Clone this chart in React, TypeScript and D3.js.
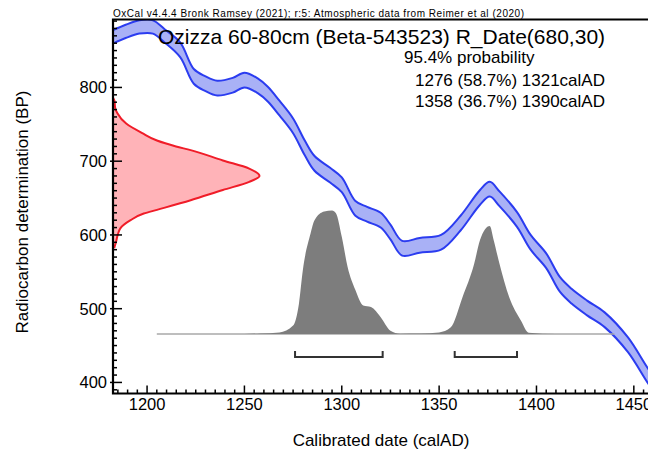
import React, { useRef, useEffect } from "react";
import * as d3 from "d3";

const header =
  "OxCal v4.4.4 Bronk Ramsey (2021); r:5: Atmospheric data from Reimer et al (2020)";
const title = "Ozizza 60-80cm (Beta-543523) R_Date(680,30)";
const probLabel = "95.4% probability";
const rangeLabels = ["1276 (58.7%) 1321calAD", "1358 (36.7%) 1390calAD"];

// calibration curve (cal AD vs BP, 1 sigma band)
const calYears = [
  1182, 1189, 1196, 1203, 1209, 1217, 1224, 1230, 1236, 1244, 1250, 1257,
  1262, 1268, 1275, 1281, 1286, 1294, 1300, 1307, 1313, 1320, 1325, 1331,
  1340, 1351, 1361, 1371, 1376, 1381, 1390, 1397, 1405, 1412, 1418, 1426,
  1435, 1447, 1457, 1462,
];
const calBP = [
  868, 876, 882, 882, 870, 851, 815, 805, 799, 803, 810, 802, 791, 772, 748,
  718, 697, 681, 668, 636, 628, 620, 604, 582, 586, 590, 616, 651, 662, 649,
  621, 590, 565, 533, 517, 501, 485, 451, 410, 392,
];
const calSigma = [
  9, 9, 9, 9, 9, 10, 10, 10, 10, 10, 10, 10, 10, 10, 10, 10, 10, 10, 10, 10,
  10, 10, 10, 10, 10, 10, 10, 10, 10, 10, 10, 10, 10, 10, 10, 10, 10, 10, 10,
  10,
];

// measured date 680±30 BP, relative likelihood
const dateBP = [
  786, 782, 772, 765, 751, 738, 728, 720, 715, 701, 690, 680, 672, 661, 647,
  634, 629, 620, 609, 602, 590, 582,
];
const dateProb = [
  0, 0.01, 0.015, 0.03, 0.09, 0.2, 0.3, 0.43, 0.53, 0.75, 0.93, 1, 0.93, 0.75,
  0.53, 0.3, 0.21, 0.12, 0.05, 0.035, 0.02, 0.008,
];

// calibrated date, relative probability
const postYears = [
  1205, 1250, 1258, 1268, 1275, 1278, 1280, 1284, 1286, 1291, 1295, 1297,
  1300, 1303, 1307, 1311, 1315, 1320, 1325, 1330, 1340, 1350, 1356, 1362,
  1368, 1371, 1376, 1378, 1381, 1386, 1392, 1396, 1410, 1440,
];
const postProb = [
  0, 0, 0.005, 0.013, 0.068, 0.245, 0.517, 0.816, 0.922, 0.992, 1, 0.978,
  0.788, 0.543, 0.356, 0.231, 0.218, 0.136, 0.027, 0.003, 0.004, 0.013,
  0.054, 0.297, 0.568, 0.762, 0.875, 0.762, 0.568, 0.297, 0.109, 0.01, 0, 0,
];

// 95.4% ranges
const rangeFrom = [1276, 1358];
const rangeTo = [1321, 1390];

const xTicks = [1200, 1250, 1300, 1350, 1400, 1450];
const yTicks = [400, 500, 600, 700, 800];

const W = 648;
const H = 451;
const FONT = "'Liberation Sans', Arial, sans-serif";

const App = () => {
  const ref = useRef(null);

  useEffect(() => {
    const svg = d3.select(ref.current);
    svg.selectAll("*").remove();

    const left = 113;
    const top = 19.5;
    const bottom = 393.5;

    const x = d3.scaleLinear().domain([1182.5, 1460]).range([left, 653.3]);
    const y = d3.scaleLinear().domain([385, 892]).range([bottom, 19.6]);
    const dateX = d3.scaleLinear().domain([0, 1]).range([left, 259.5]);
    const postY = d3.scaleLinear().domain([0, 1]).range([334, 210.5]);

    svg
      .append("rect")
      .attr("width", W)
      .attr("height", H)
      .attr("fill", "#fff");

    svg
      .append("clipPath")
      .attr("id", "plot-clip")
      .append("rect")
      .attr("x", left)
      .attr("y", top)
      .attr("width", W - left + 10)
      .attr("height", bottom - top);

    const plot = svg.append("g").attr("clip-path", "url(#plot-clip)");

    // calibration curve band
    const cal = calYears.map((yr, i) => ({
      yr,
      hi: calBP[i] + calSigma[i],
      lo: calBP[i] - calSigma[i],
    }));
    const curve = d3.curveCatmullRom.alpha(0.5);

    plot
      .append("path")
      .datum(cal)
      .attr(
        "d",
        d3
          .area()
          .x((d) => x(d.yr))
          .y0((d) => y(d.lo))
          .y1((d) => y(d.hi))
          .curve(curve)
      )
      .attr("fill", "#a9b1f6");

    ["hi", "lo"].forEach((k) => {
      plot
        .append("path")
        .datum(cal)
        .attr(
          "d",
          d3
            .line()
            .x((d) => x(d.yr))
            .y((d) => y(d[k]))
            .curve(curve)
        )
        .attr("fill", "none")
        .attr("stroke", "#2b3cf0")
        .attr("stroke-width", 2);
    });

    // radiocarbon date likelihood
    const date = dateBP.map((bp, i) => ({ bp, p: dateProb[i] }));
    plot
      .append("path")
      .datum(date)
      .attr(
        "d",
        d3
          .area()
          .y((d) => y(d.bp))
          .x0(left)
          .x1((d) => dateX(d.p))
          .curve(d3.curveMonotoneY)
      )
      .attr("fill", "#ffb3b8");
    plot
      .append("path")
      .datum(date)
      .attr(
        "d",
        d3
          .line()
          .y((d) => y(d.bp))
          .x((d) => dateX(d.p))
          .curve(d3.curveMonotoneY)
      )
      .attr("fill", "none")
      .attr("stroke", "#f01c28")
      .attr("stroke-width", 2);

    // calibrated distribution
    const post = postYears.map((yr, i) => ({ yr, p: postProb[i] }));
    plot
      .append("line")
      .attr("x1", x(postYears[0]))
      .attr("x2", x(postYears[postYears.length - 1]))
      .attr("y1", postY(0))
      .attr("y2", postY(0))
      .attr("stroke", "#a8a8a8")
      .attr("stroke-width", 1.5);
    plot
      .append("path")
      .datum(post)
      .attr(
        "d",
        d3
          .area()
          .x((d) => x(d.yr))
          .y0(postY(0))
          .y1((d) => postY(d.p))
          .curve(d3.curveMonotoneX)
      )
      .attr("fill", "#7d7d7d");

    // 95.4% range brackets
    const bracketY = 357;
    rangeFrom.forEach((from, i) => {
      const x0 = x(from);
      const x1 = x(rangeTo[i]);
      svg
        .append("path")
        .attr(
          "d",
          `M${x0},${bracketY - 6}V${bracketY}H${x1}V${bracketY - 6}`
        )
        .attr("fill", "none")
        .attr("stroke", "#333")
        .attr("stroke-width", 2);
    });

    // ticks
    const axes = svg.append("g").attr("stroke", "#000");
    d3.range(1185, 1460, 5).forEach((yr) => {
      const len = yr % 50 === 0 ? 8 : 4;
      axes
        .append("line")
        .attr("x1", x(yr))
        .attr("x2", x(yr))
        .attr("y1", bottom)
        .attr("y2", bottom - len)
        .attr("stroke-width", 1.5);
    });
    d3.range(390, 891, 10).forEach((bp) => {
      const major = bp % 100 === 0;
      axes
        .append("line")
        .attr("x1", major ? left - 3 : left)
        .attr("x2", left + (major ? 9 : 4))
        .attr("y1", y(bp))
        .attr("y2", y(bp))
        .attr("stroke-width", 1.5);
    });

    // frame
    axes
      .append("path")
      .attr("d", `M${W + 5},${top}H${left}V${bottom}H${W + 5}`)
      .attr("fill", "none")
      .attr("stroke-width", 2.2);

    // tick labels
    svg
      .selectAll(".xl")
      .data(xTicks)
      .enter()
      .append("text")
      .attr("x", (d) => x(d))
      .attr("y", 410)
      .attr("text-anchor", "middle")
      .style("font-family", FONT)
      .style("font-size", "16.5px")
      .text((d) => d);

    svg
      .selectAll(".yl")
      .data(yTicks)
      .enter()
      .append("text")
      .attr("x", 107)
      .attr("y", (d) => y(d))
      .attr("dy", "0.36em")
      .attr("text-anchor", "end")
      .style("font-family", FONT)
      .style("font-size", "16.5px")
      .text((d) => d);

    // axis titles
    svg
      .append("text")
      .attr("x", 381)
      .attr("y", 446)
      .attr("text-anchor", "middle")
      .style("font-family", FONT)
      .style("font-size", "17px")
      .text("Calibrated date (calAD)");

    svg
      .append("text")
      .attr("transform", "translate(28,212) rotate(-90)")
      .attr("text-anchor", "middle")
      .style("font-family", FONT)
      .style("font-size", "17px")
      .text("Radiocarbon determination (BP)");

    // header texts
    svg
      .append("text")
      .attr("x", 113)
      .attr("y", 16.5)
      .attr("textLength", 411)
      .style("font-family", FONT)
      .style("font-size", "10px")
      .text(header);

    svg
      .append("text")
      .attr("x", 158)
      .attr("y", 43.5)
      .style("font-family", FONT)
      .style("font-size", "21px")
      .text(title);

    svg
      .append("text")
      .attr("x", 404)
      .attr("y", 63)
      .style("font-family", FONT)
      .style("font-size", "17px")
      .text(probLabel);

    rangeLabels.forEach((t, i) => {
      svg
        .append("text")
        .attr("x", 415)
        .attr("y", 86 + i * 21)
        .style("font-family", FONT)
        .style("font-size", "17px")
        .text(t);
    });
  }, []);

  return (
    <svg
      ref={ref}
      width={W}
      height={H}
      style={{ position: "absolute", left: 0, top: 0 }}
    ></svg>
  );
};

export default App;
